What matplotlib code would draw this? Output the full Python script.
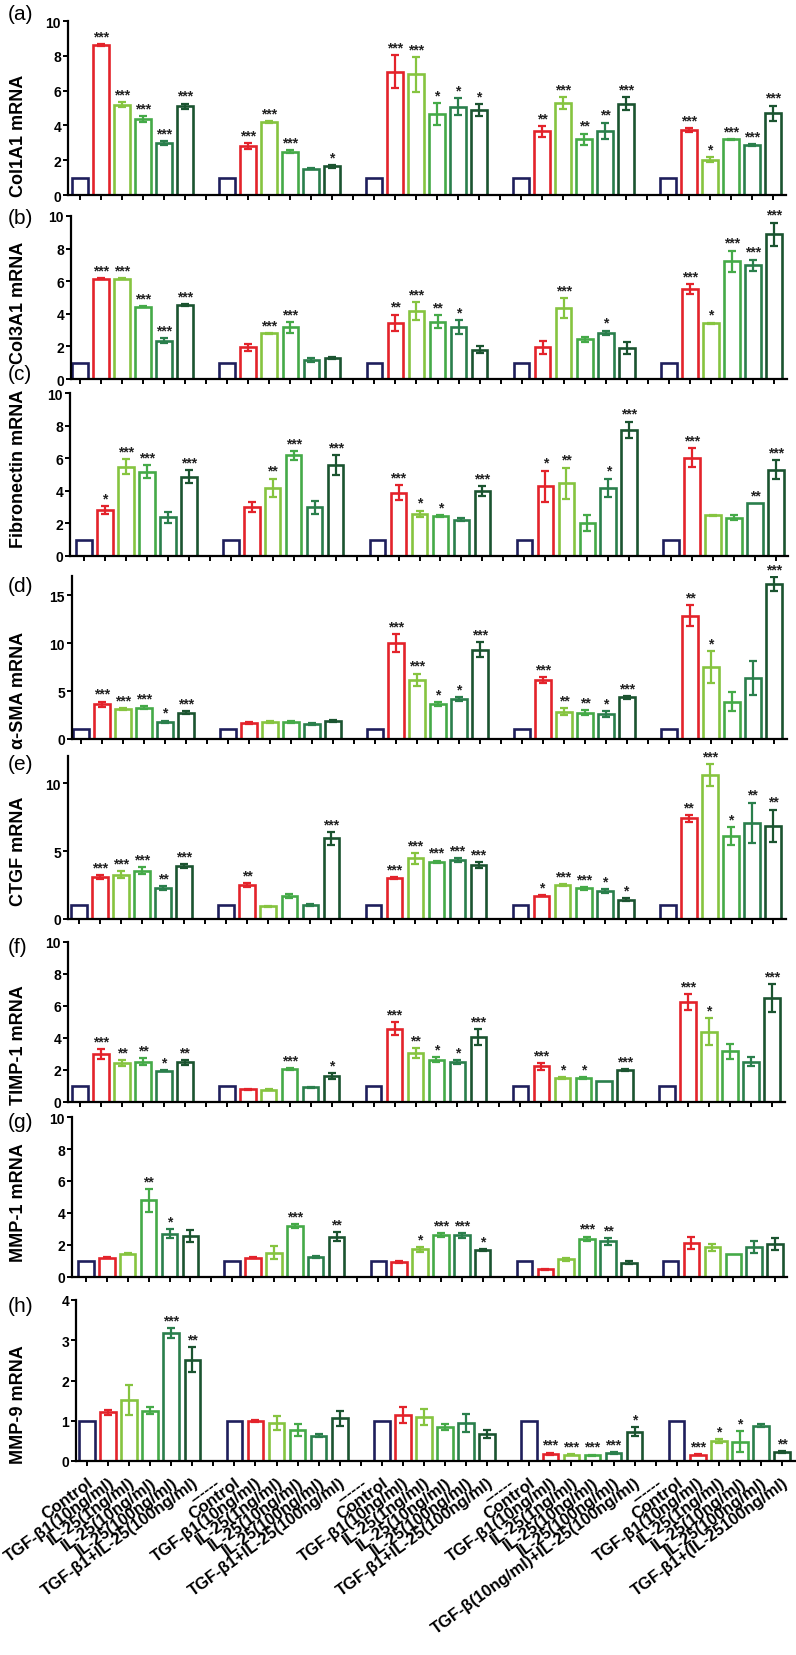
import numpy as np
import matplotlib.pyplot as plt

plt.rcParams['font.family'] = ['Liberation Sans', 'DejaVu Sans']
plt.rcParams['font.weight'] = 'bold'

# tick labels along the x axis (6 bars per group, a "------" gap between groups)
group_labels = [
    ["Control", "TGF-β1(10ng/ml)", "IL-25(1ng/ml)", "IL-25(10ng/ml)", "IL-25(100ng/ml)", "TGF-β1+IL-25(100ng/ml)"],
    ["Control", "TGF-β1(10ng/ml)", "IL-25(1ng/ml)", "IL-25(10ng/ml)", "IL-25(100ng/ml)", "TGF-β1+IL-25(100ng/ml)"],
    ["Control", "TGF-β1(10ng/ml)", "IL-25(1ng/ml)", "IL-25(10ng/ml)", "IL-25(100ng/ml)", "TGF-β1+IL-25(100ng/ml)"],
    ["Control", "TGF-β1(10ng/ml)", "IL-25(1ng/ml)", "IL-25(10ng/ml)", "IL-25(100ng/ml)", "TGF-β(10ng/ml)+IL-25(100ng/ml)"],
    ["Control", "TGF-β1(10ng/ml)", "IL-25(1ng/ml)", "IL-25(10ng/ml)", "IL-25(100ng/ml)", "TGF-β1+(IL-25100ng/ml)"],
]

col1a1 = [1, 8.62, 5.2, 4.37, 2.99, 5.1,
          1, 2.82, 4.21, 2.49, 1.52, 1.65,
          1, 7.09, 6.93, 4.64, 5.08, 4.89,
          1, 3.66, 5.29, 3.2, 3.68, 5.25,
          1, 3.74, 2.03, 3.2, 2.87, 4.71]
col1a1_err = [0, .05, .15, .15, .1, .15,
              0, .15, .05, .07, .05, .07,
              0, .96, 1.0, .62, .5, .35,
              0, .3, .35, .33, .48, .38,
              0, .1, .15, .03, .05, .43]
col1a1_sig = ['', '***', '***', '***', '***', '***',
              '', '***', '***', '***', '', '*',
              '', '***', '***', '*', '*', '*',
              '', '**', '***', '**', '**', '***',
              '', '***', '*', '***', '***', '***']

col3a1 = [1, 6.16, 6.16, 4.43, 2.35, 4.55,
          1, 1.94, 2.8, 3.16, 1.16, 1.3,
          1, 3.45, 4.18, 3.51, 3.2, 1.8,
          1, 1.94, 4.35, 2.45, 2.82, 1.9,
          1, 5.51, 3.41, 7.22, 6.98, 8.88]
col3a1_err = [0, .05, .05, .03, .15, .05,
              0, .2, .03, .35, .1, .08,
              0, .5, .54, .4, .43, .2,
              0, .4, .6, .15, .15, .35,
              0, .3, .05, .66, .35, .72]
col3a1_sig = ['', '***', '***', '***', '***', '***',
              '', '', '***', '***', '', '',
              '', '**', '***', '**', '*', '',
              '', '', '***', '', '*', '',
              '', '***', '*', '***', '***', '***']

fibronectin = [1, 2.8, 5.49, 5.16, 2.37, 4.86,
               1, 3.0, 4.2, 6.19, 2.98, 5.57,
               1, 3.88, 2.59, 2.45, 2.22, 4.0,
               1, 4.29, 4.47, 2.02, 4.2, 7.75,
               1, 6.03, 2.49, 2.35, 3.27, 5.3]
fibronectin_err = [0, .25, .45, .4, .33, .4,
                   0, .3, .55, .27, .4, .62,
                   0, .45, .2, .08, .1, .3,
                   0, .95, .95, .5, .55, .5,
                   0, .6, .03, .15, 0, .6]
fibronectin_sig = ['', '*', '***', '***', '', '***',
                   '', '', '**', '***', '', '***',
                   '', '***', '*', '*', '', '***',
                   '', '*', '**', '', '*', '***',
                   '', '***', '', '', '**', '***']

sma = [1, 3.6, 3.1, 3.28, 1.8, 2.75,
       1, 1.63, 1.74, 1.74, 1.53, 1.88,
       1, 10.0, 6.18, 3.61, 4.13, 9.3,
       1, 6.18, 2.85, 2.74, 2.6, 4.34,
       1, 12.85, 7.53, 3.89, 6.32, 16.15]
sma_err = [0, .3, .1, .15, .12, .12,
           0, .1, .12, .12, .12, .12,
           0, .95, .65, .2, .2, .78,
           0, .3, .35, .25, .3, .15,
           0, 1.1, 1.65, 1.0, 1.77, .73]
sma_sig = ['', '***', '***', '***', '*', '***',
           '', '', '', '', '', '',
           '', '***', '***', '*', '*', '***',
           '', '***', '**', '**', '*', '***',
           '', '**', '*', '', '', '***']

ctgf = [1, 3.06, 3.26, 3.55, 2.25, 3.92,
        1, 2.5, 0.93, 1.72, 1.03, 5.93,
        1, 3.01, 4.46, 4.22, 4.36, 3.97,
        1, 1.72, 2.52, 2.25, 2.06, 1.42,
        1, 7.4, 10.61, 6.08, 7.1, 6.86]
ctgf_err = [0, .15, .25, .25, .15, .15,
            0, .15, .03, .15, .05, .45,
            0, .08, .4, .08, .13, .2,
            0, .05, .07, .08, .15, .1,
            0, .25, .82, .66, 1.47, 1.2]
ctgf_sig = ['', '***', '***', '***', '**', '***',
            '', '**', '', '', '', '***',
            '', '***', '***', '***', '***', '***',
            '', '*', '***', '***', '*', '*',
            '', '**', '***', '*', '**', '**']

timp1 = [1, 3.0, 2.42, 2.52, 1.96, 2.48,
         1, 0.79, 0.78, 2.07, 0.91, 1.61,
         1, 4.59, 3.06, 2.64, 2.52, 4.07,
         1, 2.23, 1.49, 1.49, 1.34, 2.0,
         1, 6.24, 4.4, 3.16, 2.52, 6.5]
timp1_err = [0, .33, .2, .22, .05, .15,
             0, .03, .03, .07, .05, .2,
             0, .41, .3, .15, .12, .48,
             0, .2, .05, .05, 0, .05,
             0, .5, .86, .47, .28, .85]
timp1_sig = ['', '***', '**', '**', '*', '**',
             '', '', '', '***', '', '*',
             '', '***', '**', '*', '*', '***',
             '', '***', '*', '*', '', '***',
             '', '***', '*', '', '', '***']

mmp1 = [1, 1.21, 1.46, 4.79, 2.71, 2.56,
        1, 1.21, 1.52, 3.19, 1.25, 2.52,
        1, 0.94, 1.73, 2.65, 2.6, 1.71,
        1, 0.48, 1.1, 2.4, 2.23, 0.9,
        1, 2.13, 1.85, 1.46, 1.88, 2.04]
mmp1_err = [0, .03, .05, .73, .3, .35,
            0, .05, .4, .1, .05, .3,
            0, .05, .15, .12, .15, .06,
            0, .05, .07, .13, .2, .07,
            0, .35, .2, 0, .35, .37]
mmp1_sig = ['', '', '', '**', '*', '',
            '', '', '', '***', '', '**',
            '', '', '*', '***', '***', '*',
            '', '', '', '***', '**', '',
            '', '', '', '', '', '']

mmp9 = [1, 1.21, 1.52, 1.25, 3.18, 2.52,
        1, 1.0, 0.95, 0.77, 0.63, 1.06,
        1, 1.14, 1.09, 0.84, 0.95, 0.66,
        1, 0.18, 0.16, 0.14, 0.2, 0.73,
        1, 0.16, 0.49, 0.48, 0.88, 0.22]
mmp9_err = [0, .06, .37, .09, .12, .31,
            0, .02, .18, .14, .03, .19,
            0, .2, .2, .07, .22, .1,
            0, .03, .02, .02, .03, .12,
            0, .02, .05, .26, .04, .02]
mmp9_sig = ['', '', '', '', '***', '**',
            '', '', '', '', '', '',
            '', '', '', '', '', '',
            '', '***', '***', '***', '***', '*',
            '', '***', '*', '*', '', '**']

panels = [
    ("(a)", "Col1A1 mRNA", col1a1, col1a1_err, col1a1_sig),
    ("(b)", "Col3A1 mRNA", col3a1, col3a1_err, col3a1_sig),
    ("(c)", "Fibronectin mRNA", fibronectin, fibronectin_err, fibronectin_sig),
    ("(d)", "α-SMA mRNA", sma, sma_err, sma_sig),
    ("(e)", "CTGF mRNA", ctgf, ctgf_err, ctgf_sig),
    ("(f)", "TIMP-1 mRNA", timp1, timp1_err, timp1_sig),
    ("(g)", "MMP-1 mRNA", mmp1, mmp1_err, mmp1_sig),
    ("(h)", "MMP-9 mRNA", mmp9, mmp9_err, mmp9_sig),
]

# axis limits and ticks per panel
y_max = [10, 10, 10, 17, 12, 10, 10, 4]
y_ticks = [np.arange(0, 11, 2)] * 3 + [[0, 5, 10, 15], [0, 5, 10]] + [np.arange(0, 11, 2)] * 2 + [np.arange(0, 5, 1)]

# layout in pixels: spine x, first tick x, last tick x, axis end x, top y, zero y
layout = [
    (68, 80, 773, 786, 22, 196),
    (71, 80, 774, 787, 217, 380),
    (70, 84, 776, 788, 394, 557),
    (72, 81, 774, 787, 577, 740),
    (68, 79, 773, 786, 757, 920),
    (68, 80, 772, 785, 943, 1103),
    (72, 86, 775, 787, 1118, 1278),
    (76, 87, 782, 795, 1301, 1462),
]
letter_y = [15, 218, 374, 586, 765, 948, 1123, 1307]
ylabel_y = [136, 303, 469, 690, 851, 1045, 1203, 1405]

colors = ["#1f1f5c", "#e3232b", "#86c440", "#45aa48", "#2a7f4c", "#1b5430"]

W, H = 796, 1656
fig = plt.figure(figsize=(W / 100, H / 100), dpi=100)

x = np.array([g * 7 + i for g in range(5) for i in range(6)])
tick_pos = np.arange(34)
tick_lab = []
for g in range(5):
    tick_lab += group_labels[g]
    if g < 4:
        tick_lab.append("------")

for p, (letter, ylab, vals, errs, sigs) in enumerate(panels):
    spine, first, last, end, top, zero = layout[p]
    sp = (last - first) / 33
    ax = fig.add_axes([spine / W, 1 - zero / H, (end - spine) / W, (zero - top) / H])
    ax.set_xlim(-(first - spine) / sp, 33 + (end - last) / sp)
    ax.set_ylim(0, y_max[p])

    cols = [colors[i % 6] for i in range(30)]
    ax.bar(x, vals, width=0.74, facecolor='white', edgecolor=cols, linewidth=1.9, zorder=2)
    for xi, v, e, c, s in zip(x, vals, errs, cols, sigs):
        if e > 0:
            ax.errorbar(xi, v, yerr=e, fmt='none', ecolor=c, elinewidth=1.6,
                        capsize=2.6, capthick=1.6, zorder=3)
        if s:
            ax.annotate(s, (xi, v + e), xytext=(0, 0.5), textcoords='offset points',
                        ha='center', va='bottom', fontsize=10, color='#222222')

    for side in ['top', 'right']:
        ax.spines[side].set_visible(False)
    for side in ['left', 'bottom']:
        ax.spines[side].set_linewidth(1.6)
    ax.set_yticks(y_ticks[p])
    ax.tick_params(axis='both', direction='out', length=3.5, width=1.4, labelsize=10, pad=1.5)
    ax.set_xticks(tick_pos)
    if p == len(panels) - 1:
        ax.tick_params(axis='x', pad=6)
        ax.set_xticklabels(tick_lab, rotation=36, ha='right', va='top',
                           rotation_mode='anchor', fontsize=12, fontweight='bold')
    else:
        ax.set_xticklabels([])

    fig.text(8 / W, 1 - letter_y[p] / H, letter, fontsize=15, fontweight='normal',
             ha='left', va='center')
    fig.text(19 / W, 1 - ylabel_y[p] / H, ylab, fontsize=13, fontweight='bold',
             rotation=90, ha='center', va='center')

fig.savefig("out.png", dpi=100)
